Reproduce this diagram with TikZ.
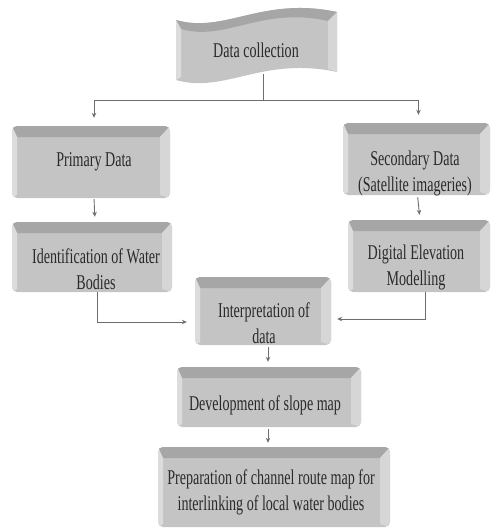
\documentclass[tikz,border=0pt]{standalone}
\usepackage{fontspec}
\setmainfont{Liberation Serif}[FakeStretch=0.67]
\usetikzlibrary{arrows.meta,calc}
\definecolor{face}{HTML}{C4C4C4}
\definecolor{topb}{HTML}{A6A6A6}
\definecolor{rightb}{HTML}{D6D6D6}
\definecolor{leftb}{HTML}{DCDCDC}
\definecolor{txt}{HTML}{2A2A2A}
\definecolor{ln}{HTML}{6E6E6E}
\begin{document}
\begin{tikzpicture}[x=1pt,y=-1pt,
 bevelbox/.style={rounded corners=5pt, fill=face, inner sep=0pt,
  path picture={
   \fill[topb,sharp corners] (path picture bounding box.north west) -- (path picture bounding box.north east) -- ($(path picture bounding box.north east)+(-10,11)$) -- ($(path picture bounding box.north west)+(5,11)$) -- cycle;
   \fill[rightb,sharp corners] (path picture bounding box.north east) -- (path picture bounding box.south east) -- ($(path picture bounding box.south east)+(-10,-3)$) -- ($(path picture bounding box.north east)+(-10,11)$) -- cycle;
   \fill[leftb,sharp corners] (path picture bounding box.north west) -- ($(path picture bounding box.north west)+(5,11)$) -- ($(path picture bounding box.south west)+(5,-3)$) -- (path picture bounding box.south west) -- cycle;
  }},
 lbl/.style={font=\fontsize{21}{26}\selectfont, text=txt, align=center, inner sep=0pt},
 conn/.style={draw=ln, line width=0.9pt},
 arr/.style={conn, -{Stealth[length=5pt,width=4.5pt]}}
]
\useasboundingbox (0,0) rectangle (497,530);

% Data collection wave
\fill[face] (176,20) .. controls (225,34) and (262,-4) .. (337,12) -- (337,72) .. controls (262,56) and (225,94) .. (176,80) -- cycle;
\fill[topb] (176,20) .. controls (225,34) and (262,-4) .. (337,12) -- (328,21) .. controls (262,6) and (225,42) .. (181,29) -- cycle;
\fill[leftb] (176,20) -- (181,29) -- (181,77) -- (176,80) -- cycle;
\fill[rightb] (337,12) -- (328,21) -- (328,69) -- (337,72) -- cycle;
\node[lbl] (dc) at (256,50) {Data collection};
\coordinate (dcb) at (263,74);
\coordinate (split) at (263,100);

\node[bevelbox, minimum width=158pt, minimum height=72pt] (prim) at (91,162) {};
\node[lbl] (primt) at (94,162) {Primary Data};
\node[bevelbox, minimum width=160pt, minimum height=70pt] (ident) at (92,257) {};
\node[lbl] (identt) at (96,269) {Identification of Water\\Bodies};
\node[bevelbox, minimum width=147pt, minimum height=72pt] (sec) at (416.5,159) {};
\node[lbl] (sect) at (415,173) {Secondary Data\\(Satellite imageries)};
\node[bevelbox, minimum width=142pt, minimum height=72pt] (dem) at (419,256) {};
\node[lbl] (demt) at (416,267) {Digital Elevation\\Modelling};
\node[bevelbox, minimum width=136pt, minimum height=68pt] (interp) at (263,311) {};
\node[lbl] (interpt) at (264,323) {Interpretation of\\data};
\node[bevelbox, minimum width=184pt, minimum height=60pt] (dev) at (269,397) {};
\node[lbl] (devt) at (265,405) {Development of slope map};
\node[bevelbox, minimum width=232pt, minimum height=80pt] (prep) at (274,487) {};
\node[lbl] (prept) at (271,492) {Preparation of channel route map for\\interlinking of local water bodies};

\draw[conn] (dcb) -- (split);
\draw[arr, shorten >=8pt] (split) -| ([xshift=3pt]prim.north);
\draw[arr, shorten >=8pt] (split) -| ([xshift=2pt]sec.north);
\draw[arr, shorten <=1pt, shorten >=5pt] ([xshift=3pt]prim.south) -- ([xshift=3pt]ident.north);
\draw[arr, shorten <=2pt, shorten >=5pt] ([xshift=1pt]sec.south) -- ([xshift=1pt]dem.north);
\draw[arr, shorten >=8pt] ([xshift=5pt]ident.south) |- ([yshift=-11pt]interp.west);
\draw[arr, shorten >=6pt] ([xshift=6pt]dem.south) |- ([yshift=-8pt]interp.east);
\draw[arr, shorten <=2pt, shorten >=5pt] ([xshift=5pt]interp.south) -- ([xshift=5pt]interp.south |- dev.north);
\draw[arr, shorten <=2pt, shorten >=4pt] ([xshift=-1pt]dev.south) -- ([xshift=-1pt]dev.south |- prep.north);
\end{tikzpicture}
\end{document}
